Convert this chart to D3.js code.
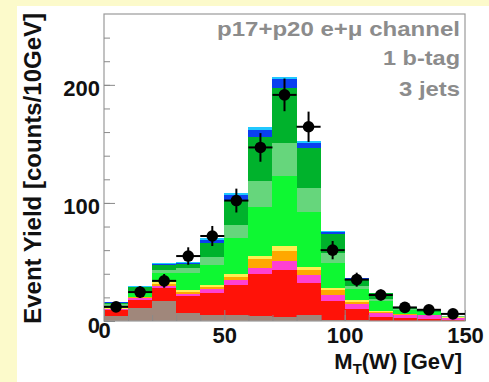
<!DOCTYPE html>
<html>
<head>
<meta charset="utf-8">
<script src="https://cdn.jsdelivr.net/npm/d3@7"></script>
<style>
  body { margin: 0; background: #fcfacb; }
  svg { display: block; font-family: "Liberation Sans", Arial, Helvetica, sans-serif; }
</style>
</head>
<body>
<svg id="chart" width="489" height="382"></svg>
<script>
// bins of 10 GeV, low edges
const binLow = [0, 10, 20, 30, 40, 50, 60, 70, 80, 90, 100, 110, 120, 130, 140]

// stacked backgrounds, bottom to top
const multijets = [4, 11, 17, 7, 5, 5, 4.5, 3.6, 5, 0.8, 0.5, 0.3, 0.2, 0.2, 0.1]
const ttLjets = [5, 7, 11, 14, 18.5, 25.5, 35, 40, 27, 16, 10, 3, 2, 1.5, 1]
const ttDilep = [1, 1.5, 2, 2, 4, 4, 5.6, 7.5, 7, 5.6, 3.5, 3.5, 3, 3, 1.5]
const diboson = [0.5, 0.5, 1.5, 1.5, 1.5, 3, 7, 8.5, 4.5, 3.5, 2, 1, 0.5, 0.4, 0.2]
const zjets = [0.5, 0.5, 1.5, 1.5, 1.5, 2.5, 3, 3.5, 2.5, 2.2, 1.5, 1, 0.5, 0.4, 0.2]
const wlp = [2, 4, 8, 15, 17, 30, 41.5, 59.5, 46.6, 21, 10, 8, 3, 2, 0.8]
const wcc = [1, 1, 2, 4, 6.5, 11, 22, 28, 20, 8.5, 2, 2, 1, 0.5, 0.2]
const wbb = [1.5, 3, 4.5, 3, 12, 21, 37.5, 47, 34, 16, 6, 4.5, 1.5, 1, 0.4]
const tqb = [0.5, 0.5, 1, 1, 3, 4.5, 6, 7, 4, 2, 0.5, 0.3, 0.2, 0.1, 0.05]
const tb = [0.5, 0.5, 0.5, 1, 1, 2, 2, 2, 2, 0.5, 0.3, 0.2, 0.1, 0.1, 0.05]

const dataCounts = [12, 24.5, 34, 55, 72, 102, 147, 191.5, 164.5, 60, 35, 22, 11.5, 9.5, 6]

const seriesNames = ['multijets', 'ttLjets', 'ttDilep', 'diboson', 'zjets', 'wlp', 'wcc', 'wbb', 'tqb', 'tb']
const seriesValues = [multijets, ttLjets, ttDilep, diboson, zjets, wlp, wcc, wbb, tqb, tb]
const seriesColors = ['#a0877b', '#ff1208', '#ff40d2', '#ffa800', '#ffee50', '#0ef832', '#66d67c', '#00b22c', '#0a40f0', '#20c8ff']

const yMajor = [0, 100, 200]
const xMajor = [0, 50, 100, 150]
const textLines = ['p17+p20 e+\u03bc channel', '1 b-tag', '3 jets']
const textWidths = [243, 77, 61]

const svg = d3.select('#chart')
const W = 489, H = 382
const padL = 104, padR = 465, padT = 14, padB = 321

svg.append('rect').attr('width', W).attr('height', H).attr('fill', '#fcfacb')
svg.append('rect').attr('x', 17).attr('y', 6).attr('width', W - 17).attr('height', H - 6).attr('fill', '#ffffff')

const x = d3.scaleLinear().domain([0, 150]).range([padL, padR])
const y = d3.scaleLinear().domain([0, 260]).range([padB, padT])

// build table for the stack
const table = binLow.map((lo, i) => {
  const row = { lo }
  seriesNames.forEach((n, k) => { row[n] = seriesValues[k][i] })
  return row
})
const stack = d3.stack().keys(seriesNames)(table)

svg.append('g')
  .selectAll('g')
  .data(stack)
  .enter()
  .append('g')
  .attr('fill', (d, i) => seriesColors[i])
  .selectAll('rect')
  .data(d => d)
  .enter()
  .append('rect')
  .attr('x', d => x(d.data.lo))
  .attr('width', d => x(d.data.lo + 10) - x(d.data.lo))
  .attr('y', d => y(d[1]))
  .attr('height', d => y(d[0]) - y(d[1]))
  .attr('shape-rendering', 'crispEdges')

// frame
svg.append('rect')
  .attr('x', padL).attr('y', padT)
  .attr('width', padR - padL).attr('height', padB - padT)
  .attr('fill', 'none').attr('stroke', '#9a9a9a').attr('stroke-width', 1.2)

// axes, ROOT style ticks inside
const axisFont = g => g.selectAll('text')
  .attr('font-size', 22).attr('font-weight', 'bold').attr('fill', '#111')
  .attr('font-family', '"Liberation Sans", Arial, sans-serif')

const yAxis = svg.append('g').attr('transform', `translate(${padL},0)`)
  .call(d3.axisLeft(y).tickValues(yMajor).tickSize(-11).tickPadding(4).tickFormat(d3.format('d')))
yAxis.call(axisFont)
yAxis.selectAll('text').attr('dy', '0.5em')
svg.append('g').attr('transform', `translate(${padL},0)`)
  .call(d3.axisLeft(y).tickValues(d3.range(0, 241, 20)).tickSize(-6).tickFormat(''))

const xAxis = svg.append('g').attr('transform', `translate(0,${padB})`)
  .call(d3.axisBottom(x).tickValues(xMajor).tickSize(-11).tickPadding(6).tickFormat(d3.format('d')))
xAxis.call(axisFont)
// the 0 label sits a little higher, as in the original
xAxis.selectAll('text').filter(d => d === 0).attr('y', 1)
svg.append('g').attr('transform', `translate(0,${padB})`)
  .call(d3.axisBottom(x).tickValues(d3.range(0, 151, 10)).tickSize(-6).tickFormat(''))

svg.selectAll('.domain').remove()
svg.selectAll('.tick line').attr('stroke', '#8a8a8a')

// data points with errors
const pts = svg.append('g')
  .selectAll('g')
  .data(dataCounts.map((v, i) => ({ lo: binLow[i], v })))
  .enter()
  .append('g')
pts.append('line')
  .attr('x1', d => x(d.lo)).attr('x2', d => x(d.lo + 10))
  .attr('y1', d => y(d.v)).attr('y2', d => y(d.v))
  .attr('stroke', '#000').attr('stroke-width', 2)
pts.append('line')
  .attr('x1', d => x(d.lo + 5)).attr('x2', d => x(d.lo + 5))
  .attr('y1', d => y(d.v + Math.sqrt(d.v))).attr('y2', d => y(d.v - Math.sqrt(d.v)))
  .attr('stroke', '#000').attr('stroke-width', 2)
pts.append('circle')
  .attr('cx', d => x(d.lo + 5)).attr('cy', d => y(d.v))
  .attr('r', 5.8).attr('fill', '#000')

// labels in the corner
svg.append('g')
  .selectAll('text')
  .data(textLines)
  .enter()
  .append('text')
  .attr('x', (d, i) => 460 - textWidths[i])
  .attr('y', (d, i) => [36, 65, 96][i])
  .attr('textLength', (d, i) => textWidths[i])
  .attr('lengthAdjust', 'spacingAndGlyphs')
  .attr('font-size', 21).attr('font-weight', 'bold').attr('fill', '#8c8c8c')
  .text(d => d)

// axis titles
const xt = svg.append('text')
  .attr('x', 462).attr('y', 369)
  .attr('text-anchor', 'end')
  .attr('font-size', 22).attr('font-weight', 'bold').attr('fill', '#111')
xt.append('tspan').text('M')
xt.append('tspan').text('T').attr('font-size', 15).attr('dy', 5)
xt.append('tspan').text('(W) [GeV]').attr('dy', -5)

svg.append('text')
  .attr('transform', 'translate(41,13) rotate(-90)')
  .attr('text-anchor', 'end')
  .attr('font-size', 24).attr('font-weight', 'bold').attr('fill', '#111')
  .text('Event Yield [counts/10GeV]')
</script>
</body>
</html>
